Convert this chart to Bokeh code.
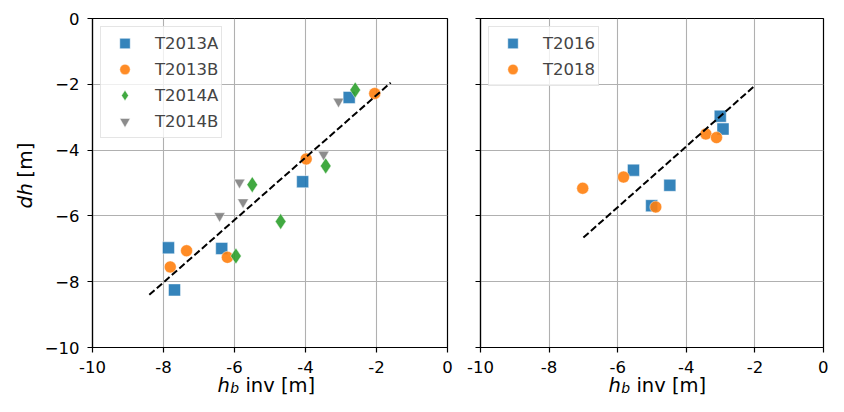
import math
from bokeh.plotting import figure
from bokeh.layouts import row, column
from bokeh.models import Range1d, FixedTicker
from bokeh.core.properties import value
from bokeh.embed import file_html
from bokeh.resources import INLINE

# ---------------- data ----------------
t2013a_x = [-7.86, -7.69, -6.36, -4.08, -2.77]
t2013a_y = [-6.97, -8.25, -6.99, -4.96, -2.40]
t2013b_x = [-7.81, -7.35, -6.20, -3.98, -2.05]
t2013b_y = [-7.55, -7.06, -7.26, -4.27, -2.28]
t2014a_x = [-5.96, -5.50, -4.70, -3.43, -2.60]
t2014a_y = [-7.22, -5.05, -6.17, -4.48, -2.17]
t2014b_x = [-6.42, -5.86, -5.76, -3.49, -3.07]
t2014b_y = [-6.00, -4.98, -5.58, -4.13, -2.52]
fit_left_x = [-8.4, -1.6]
fit_left_y = [-8.40, -1.95]

t2016_x = [-5.54, -5.01, -4.48, -3.01, -2.93]
t2016_y = [-4.61, -5.69, -5.07, -2.97, -3.36]
t2018_x = [-7.02, -5.83, -4.89, -3.43, -3.12]
t2018_y = [-5.16, -4.82, -5.73, -3.51, -3.62]
fit_right_x = [-7.0, -2.0]
fit_right_y = [-6.66, -2.04]

ticks = [-10, -8, -6, -4, -2, 0]
x_tick_labels = ["-10", "-8", "-6", "-4", "-2", "0"]
y_tick_labels = ["\u221210", "\u22128", "\u22126", "\u22124", "\u22122", "0"]

BLUE = "#1f77b4"
ORANGE = "#ff7f0e"
GREEN = "#2ca02c"
GRAY = "#7f7f7f"
FONT = "DejaVu Sans"

# ---------------- layout sizes (pixels) ----------------
TOTAL_W = 828
H_MAIN = 380
H_XLAB = 24
XLAB_OVERLAP = 8
YLAB_W = 38
P1_W = 415


def make_fig(width, mbl, mbr, show_ylabels):
    p = figure(width=width, height=H_MAIN, x_range=Range1d(-10, 0), y_range=Range1d(-10, 0),
               output_backend="svg", toolbar_location=None,
               min_border_left=mbl, min_border_right=mbr, min_border_top=18, min_border_bottom=33)
    p.background_fill_color = "white"
    p.border_fill_color = "white"
    p.outline_line_color = "black"
    p.outline_line_width = 1.2
    p.outline_line_alpha = 1.0
    tk = FixedTicker(ticks=ticks, minor_ticks=[])
    for ax in (p.xaxis[0], p.yaxis[0]):
        ax.ticker = tk
        ax.major_tick_in = 0
        ax.major_tick_out = 5
        ax.minor_tick_in = 0
        ax.minor_tick_out = 0
        ax.axis_line_color = "black"
        ax.axis_line_width = 1.2
        ax.major_tick_line_color = "black"
        ax.major_tick_line_width = 1.2
        ax.major_label_text_font = FONT
        ax.major_label_text_font_size = "16.5px"
        ax.major_label_text_color = "black"
    p.xgrid.ticker = tk
    p.ygrid.ticker = tk
    p.xaxis.major_label_overrides = dict(zip(ticks, x_tick_labels))
    p.xaxis.major_label_standoff = 8
    if show_ylabels:
        p.yaxis.major_label_overrides = dict(zip(ticks, y_tick_labels))
        p.yaxis.major_label_standoff = 8
    else:
        p.yaxis.major_label_overrides = {t: "" for t in ticks}
    p.grid.grid_line_color = "#b0b0b0"
    p.grid.grid_line_width = 1.1
    return p


def style_legend(p):
    lg = p.legend[0]
    lg.location = "top_left"
    lg.margin = 8
    lg.padding = 3
    lg.spacing = 0
    lg.glyph_width = 41
    lg.glyph_height = 26
    lg.label_height = 26
    lg.label_standoff = 10
    lg.label_text_font = FONT
    lg.label_text_font_size = "16.5px"
    lg.label_text_baseline = "middle"
    lg.border_line_color = "#cccccc"
    lg.border_line_width = 1
    lg.background_fill_color = "white"
    lg.background_fill_alpha = 0.8


def label_fig(width, height, **kw):
    f = figure(width=width, height=height, x_range=Range1d(0, width), y_range=Range1d(0, height),
               output_backend="svg", toolbar_location=None, x_axis_type=None, y_axis_type=None,
               title=None,
               min_border_left=0, min_border_right=0, min_border_top=0, min_border_bottom=0, **kw)
    f.outline_line_color = None
    f.background_fill_alpha = 0
    f.border_fill_alpha = 0
    return f


common = dict(fill_alpha=0.9, line_color="white", line_width=0.5, line_alpha=0.9)

# ---------------- left panel ----------------
p1 = make_fig(P1_W, 54, 6, True)
p1.scatter(t2014b_x, t2014b_y, marker="inverted_triangle", size=11, fill_color=GRAY,
           legend_label="T2014B", **common)
p1.scatter(t2013a_x, t2013a_y, marker="square", size=12, fill_color=BLUE,
           legend_label="T2013A", **common)
p1.scatter(t2013b_x, t2013b_y, marker="circle", size=12, fill_color=ORANGE,
           legend_label="T2013B", **common)
p1.scatter(t2014a_x, t2014a_y, marker="diamond", size=16, fill_color=GREEN,
           legend_label="T2014A", **common)
p1.line(fit_left_x, fit_left_y, line_color="black", line_width=2, line_dash="7 3")
order = ["T2013A", "T2013B", "T2014A", "T2014B"]
p1.legend[0].items = sorted(p1.legend[0].items, key=lambda it: order.index(it.label.value))
style_legend(p1)

# ---------------- right panel ----------------
p2 = make_fig(TOTAL_W - YLAB_W - P1_W, 27, 5, False)
p2.scatter(t2016_x, t2016_y, marker="square", size=12, fill_color=BLUE,
           legend_label="T2016", **common)
p2.scatter(t2018_x, t2018_y, marker="circle", size=12, fill_color=ORANGE,
           legend_label="T2018", **common)
p2.line(fit_right_x, fit_right_y, line_color="black", line_width=2, line_dash="7 3")
style_legend(p2)

# ---------------- y axis title: "dh [m]" (rotated) ----------------
yl = label_fig(YLAB_W, H_MAIN)
ylab_x = 24.2
ylab_y = H_MAIN - 190.2
space_20 = 6.4
yl.text(x=[ylab_x], y=[ylab_y], text=["dh"], angle=math.pi / 2, text_align="right",
        text_baseline="middle", text_font=value(FONT), text_font_style="italic",
        text_font_size="20px", text_color="black")
yl.text(x=[ylab_x], y=[ylab_y + space_20], text=["[m]"], angle=math.pi / 2, text_align="left",
        text_baseline="middle", text_font=value(FONT), text_font_size="20px",
        text_color="black")

# ---------------- x axis titles: "h_b inv [m]" ----------------
xl = label_fig(TOTAL_W, H_XLAB, margin=(-XLAB_OVERLAP, 0, 0, 0))
mid_y = 11.4
sub_mid_y = 8.2
for h_x in (217.0, 608.0):
    xl.text(x=[h_x], y=[mid_y], text=["h"], text_align="left", text_baseline="middle",
            text_font=value(FONT), text_font_style="italic", text_font_size="19.5px",
            text_color="black")
    xl.text(x=[h_x + 12.8], y=[sub_mid_y], text=["b"], text_align="left",
            text_baseline="middle", text_font=value(FONT), text_font_style="italic",
            text_font_size="14px", text_color="black")
    xl.text(x=[h_x + 27.9], y=[mid_y], text=["inv [m]"], text_align="left",
            text_baseline="middle", text_font=value(FONT), text_font_size="19.5px",
            text_color="black")

layout = column(row(yl, p1, p2), xl)
open("out.html", "w").write(file_html(layout, INLINE))
